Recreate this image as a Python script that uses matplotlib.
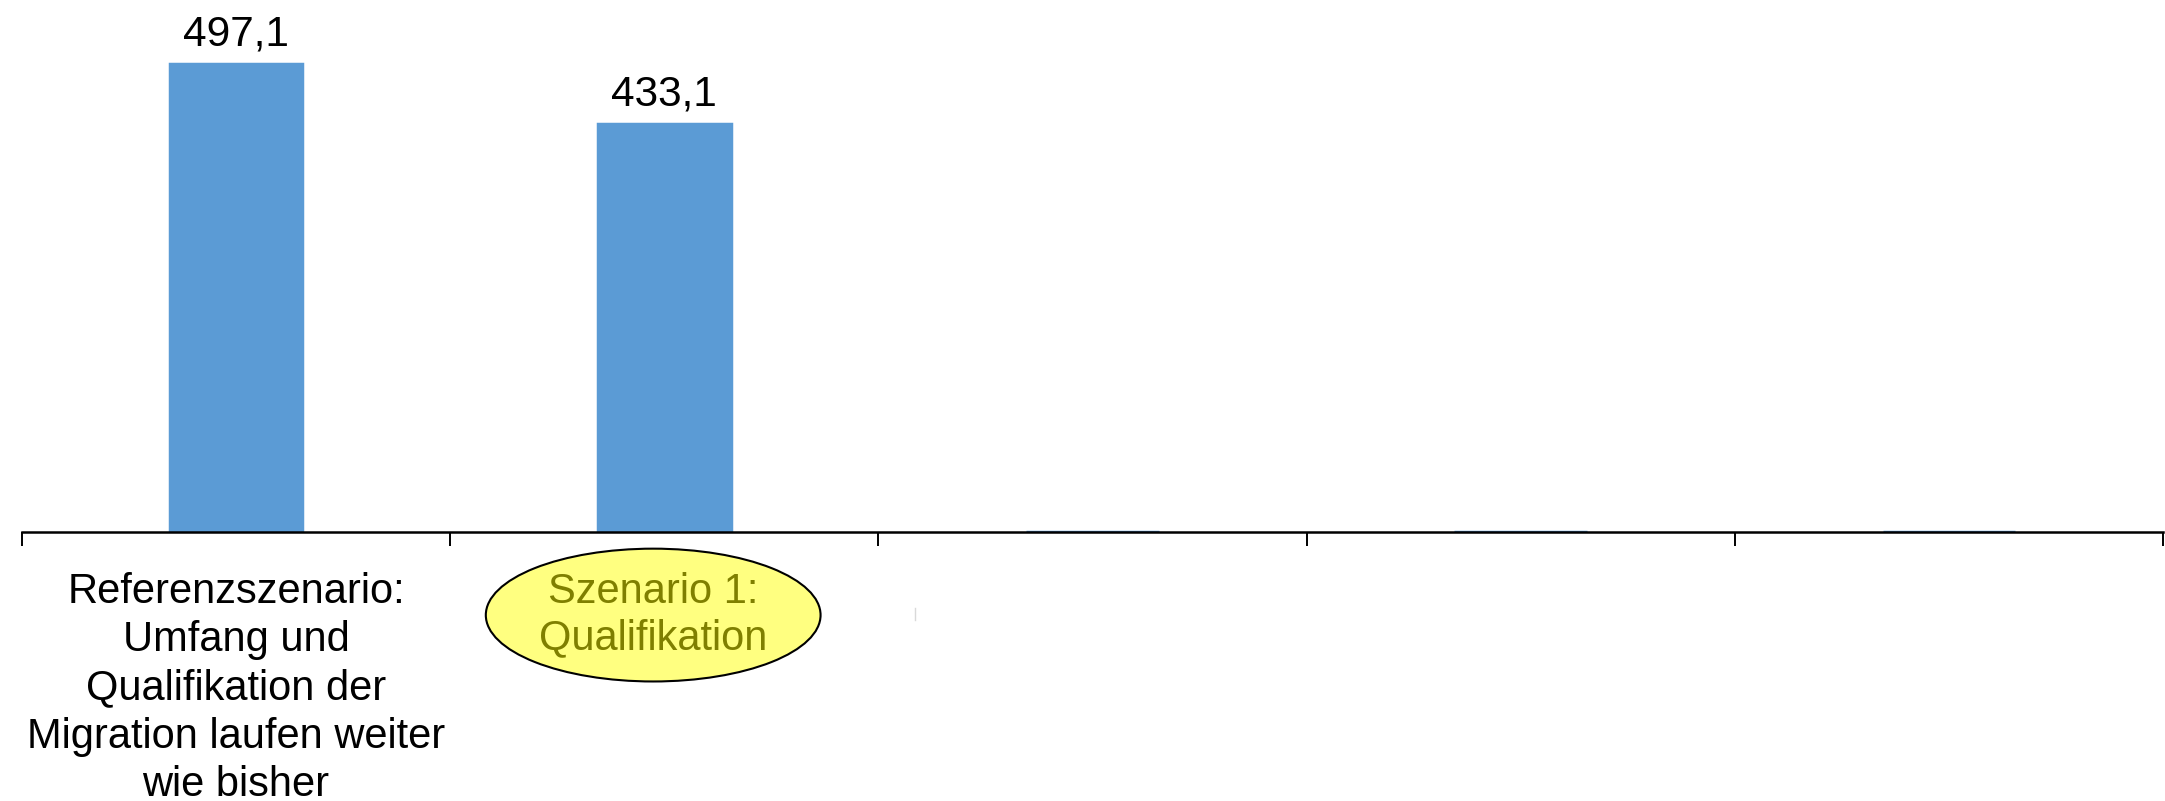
import matplotlib
matplotlib.use("Agg")
import matplotlib.pyplot as plt
from matplotlib.lines import Line2D

plt.rcParams['font.family'] = ['Liberation Sans', 'DejaVu Sans']

# Szenarien und Werte
categories = [
    "Referenzszenario:\nUmfang und\nQualifikation der\nMigration laufen weiter\nwie bisher",
    "Szenario 1:\nQualifikation",
    "",
    "",
    "",
]
values = [497.1, 433.1, 0, 0, 0]

bar_color = "#5B9BD5"

fig = plt.figure(figsize=(21.65, 8.01), dpi=100)
ax = fig.add_axes([22 / 2165, 1 - 532 / 801, 2141 / 2165, 532 / 801])

x = list(range(len(values)))
ax.bar(x, values, width=0.31, color=bar_color, edgecolor=bar_color, linewidth=2.5)

ax.set_xlim(-0.5, len(values) - 0.5)
ax.set_ylim(0, 565)

# only the category axis is shown
for side in ["left", "right", "top"]:
    ax.spines[side].set_visible(False)
ax.spines["bottom"].set_linewidth(1.8)
ax.set_yticks([])
ax.set_xticks([i - 0.5 for i in range(len(values) + 1)])
ax.set_xticklabels([])
ax.tick_params(axis="x", direction="out", length=10, width=1.4, color="black")

# value labels with German decimal comma
for xi, v in zip(x, values):
    if v > 0:
        ax.annotate(f"{v:.1f}".replace(".", ","), (xi, v), xytext=(0, 7),
                    textcoords="offset points", ha="center", va="bottom",
                    fontsize=30.5)

# category labels
for xi, label in zip(x, categories):
    if not label:
        continue
    if xi == 1:
        ax.annotate(label, (xi, 0), xycoords=("data", "axes fraction"),
                    xytext=(-8, -29), textcoords="offset points",
                    ha="center", va="top", fontsize=30, color="#7F7F00",
                    linespacing=1.18,
                    bbox=dict(boxstyle="ellipse,pad=0.1", fc="#FFFF80",
                              ec="black", lw=1.5))
    else:
        ax.annotate(label, (xi, 0), xycoords=("data", "axes fraction"),
                    xytext=(0, -28.5), textcoords="offset points",
                    ha="center", va="top", fontsize=30, color="black",
                    linespacing=1.27)

# faint stray mark below the axis
fig.add_artist(Line2D([915 / 2165, 915 / 2165], [1 - 608 / 801, 1 - 620 / 801],
                      transform=fig.transFigure, color="#d9d9d9", lw=1))

fig.savefig("out.png", dpi=100)
